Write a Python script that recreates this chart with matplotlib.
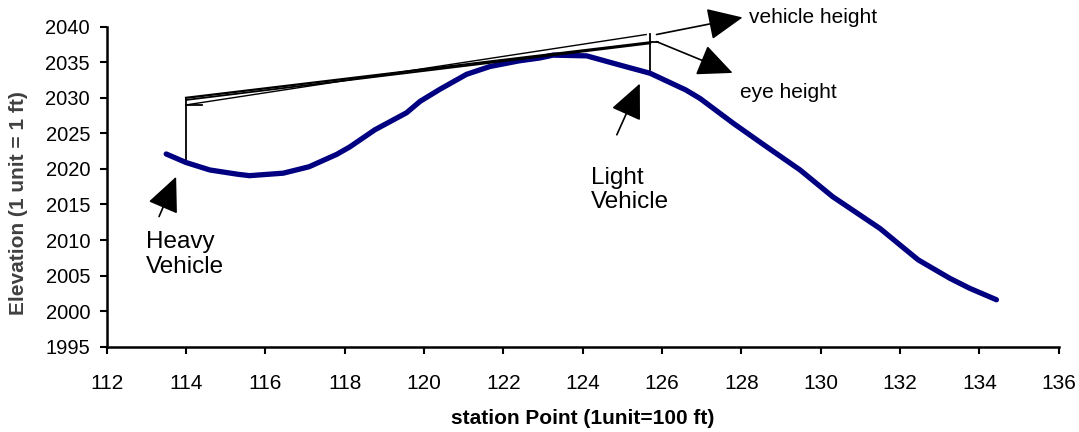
import matplotlib
matplotlib.use("Agg")
import matplotlib.pyplot as plt

# road profile (station in 100 ft, elevation in ft)
station = [113.5, 114.0, 114.6, 115.3, 115.6, 116.45, 117.1, 117.8, 118.13,
           118.76, 119.56, 119.9, 120.4, 121.07, 121.66, 122.4, 122.92, 123.25,
           124.1, 124.94, 125.7, 126.6, 126.96, 127.8, 128.64, 129.48, 130.3,
           131.5, 132.0, 132.46, 133.26, 133.76, 134.43]
elevation = [2022.1, 2020.9, 2019.85, 2019.25, 2019.05, 2019.4, 2020.3, 2022.05, 2023.1,
             2025.5, 2027.9, 2029.5, 2031.2, 2033.3, 2034.4, 2035.2, 2035.6, 2036.0,
             2035.9, 2034.6, 2033.45, 2031.1, 2029.9, 2026.4, 2023.1, 2019.85, 2016.1,
             2011.6, 2009.3, 2007.2, 2004.6, 2003.2, 2001.6]

# vehicle positions and heights
heavy_x, heavy_ground, heavy_top, heavy_eye = 114.0, 2020.9, 2030.0, 2029.0
light_x, light_ground, light_top, light_eye = 125.7, 2033.45, 2039.0, 2037.8

x_ticks = list(range(112, 137, 2))
y_ticks = list(range(1995, 2041, 5))

plt.rcParams['font.family'] = ['Liberation Sans', 'DejaVu Sans']

fig = plt.figure(figsize=(10.79, 4.32), dpi=100)
ax = fig.add_axes([0.0989, 0.1975, 0.8823, 0.7407])

ax.plot(station, elevation, color='#000080', lw=3.8, solid_capstyle='round', zorder=3)

# vehicle posts
ax.plot([heavy_x, heavy_x], [heavy_ground, heavy_top], color='black', lw=1.3)
ax.plot([light_x, light_x], [light_ground, light_top], color='black', lw=1.3)
ax.plot([heavy_x, heavy_x + 0.4], [heavy_eye, heavy_eye], color='black', lw=1.3)
ax.plot([light_x, light_x + 0.2], [light_eye, light_eye], color='black', lw=1.3)

# sight lines
ax.plot([heavy_x, light_x], [heavy_top, light_eye], color='black', lw=1.6, zorder=4)
ax.plot([heavy_x, light_x], [heavy_top - 0.3, light_eye - 0.15], color='black', lw=1.3, zorder=4)
ax.plot([heavy_x, light_x - 0.1], [heavy_eye, light_top - 0.1], color='black', lw=1.0, zorder=4)

arrow = dict(arrowstyle='-|>,head_length=1.1,head_width=0.5', color='black',
             lw=1.2, mutation_scale=20, shrinkA=0, shrinkB=0)

ax.annotate('', xy=(113.75, 2018.9), xytext=(113.32, 2013.3),
            arrowprops=arrow, annotation_clip=False)
ax.text(112.99, 2011.2, 'Heavy\nVehicle', fontsize=17.5, ha='left', va='top',
        linespacing=1.15)
ax.annotate('', xy=(125.44, 2032.0), xytext=(124.86, 2024.8),
            arrowprops=arrow, annotation_clip=False)
ax.text(124.2, 2020.3, 'Light\nVehicle', fontsize=17.5, ha='left', va='top',
        linespacing=1.15)
ax.annotate('', xy=(128.03, 2041.3), xytext=(125.86, 2038.9),
            arrowprops=arrow, annotation_clip=False)
ax.text(128.2, 2041.3, 'vehicle height', fontsize=15, ha='left', va='center', clip_on=False)
ax.annotate('', xy=(127.78, 2033.5), xytext=(125.86, 2037.9),
            arrowprops=arrow, annotation_clip=False)
ax.text(127.96, 2030.8, 'eye height', fontsize=15, ha='left', va='center')

ax.set_xlim(112, 136)
ax.set_ylim(1995, 2040)
ax.set_xticks(x_ticks)
ax.set_yticks(y_ticks)
ax.tick_params(axis='both', direction='out', length=5, width=1.5, labelsize=14.5)
ax.tick_params(axis='x', pad=15, labelsize=15)
ax.tick_params(axis='y', pad=7)
for side in ['top', 'right']:
    ax.spines[side].set_visible(False)
for side in ['left', 'bottom']:
    ax.spines[side].set_linewidth(1.8)

ax.set_xlabel('station Point (1unit=100 ft)', fontsize=15, fontweight='bold')
ax.xaxis.set_label_coords(0.5, -0.195)
ax.set_ylabel('Elevation (1 unit = 1 ft)', fontsize=15, fontweight='bold', color='#404040')
ax.yaxis.set_label_coords(-0.083, 0.449)

fig.savefig('out.png', dpi=100)
